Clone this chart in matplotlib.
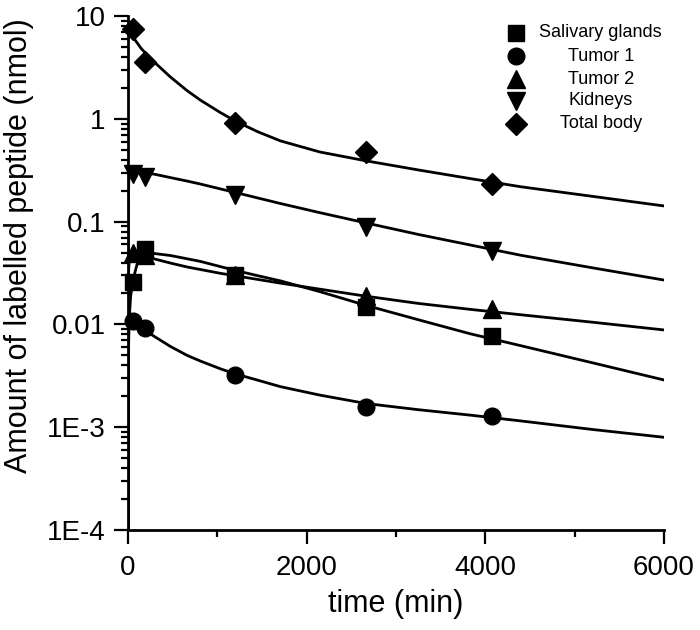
import numpy as np
import matplotlib
matplotlib.use("Agg")
import matplotlib.pyplot as plt

plt.rcParams['font.family'] = ['Liberation Sans', 'DejaVu Sans']

# measured points (time in min, amount in nmol)
t_points = [55, 190, 1200, 2665, 4075]
salivary = [0.0258, 0.054, 0.0305, 0.0148, 0.0077]
tumor1 = [0.0107, 0.0092, 0.0032, 0.00157, 0.00129]
tumor2 = [0.050, 0.047, 0.0302, 0.0190, 0.0140]
kidneys = [0.29, 0.27, 0.183, 0.089, 0.052]
total_body = [7.4, 3.6, 0.91, 0.48, 0.233]

# fitted curves
t_total_fit = [0, 30, 64, 150, 288, 475, 661, 810, 1034, 1202, 1450, 1706, 2150, 2665, 3250, 3832, 4400, 5200, 6000]
total_fit = [8.0, 7.0, 6.1, 4.8, 3.6, 2.55, 1.88, 1.52, 1.15, 0.95, 0.75, 0.61, 0.475, 0.39, 0.318, 0.262, 0.218, 0.176, 0.142]

t_rise_fit = [0, 3, 8, 15, 30, 60, 100, 150, 200, 288, 475, 661, 810, 1034, 1202, 1450, 1706, 2150, 2665, 3250, 3832, 4400, 5200, 6000]
kidney_fit = [1e-6, 0.12, 0.24, 0.30, 0.32, 0.315, 0.308, 0.30, 0.296, 0.290, 0.268, 0.248, 0.232, 0.208, 0.192, 0.170, 0.150, 0.122, 0.097, 0.075, 0.0592, 0.047, 0.0355, 0.027]
salivary_fit = [1e-6, 0.003, 0.007, 0.012, 0.019, 0.028, 0.038, 0.045, 0.0485, 0.049, 0.0468, 0.0435, 0.0410, 0.0365, 0.0335, 0.0298, 0.0265, 0.0208, 0.0153, 0.0111, 0.0081, 0.0062, 0.00423, 0.00288]
tumor2_fit = [1e-6, 0.02, 0.035, 0.043, 0.048, 0.0485, 0.048, 0.0465, 0.0452, 0.0435, 0.0395, 0.0362, 0.0342, 0.0314, 0.0297, 0.0274, 0.0252, 0.0220, 0.0188, 0.0160, 0.0140, 0.0124, 0.0105, 0.00883]
tumor1_fit = [1e-6, 0.008, 0.0112, 0.0113, 0.0111, 0.0106, 0.0100, 0.0093, 0.0087, 0.0077, 0.0061, 0.0050, 0.0044, 0.0037, 0.0033, 0.00287, 0.00248, 0.00205, 0.0017, 0.00148, 0.00131, 0.00115, 0.00095, 0.000798]

labels = ['Salivary glands', 'Tumor 1', 'Tumor 2', 'Kidneys', 'Total body']
markers = ['s', 'o', '^', 'v', 'D']
msizes = [11, 12, 13, 13, 11]

fig = plt.figure(figsize=(7, 6.3), dpi=100)
ax = fig.add_axes([128 / 700, 1 - 530 / 630, 536 / 700, 514 / 630])

lw = 2.0
ax.plot(t_total_fit, total_fit, color='black', lw=lw, zorder=2)
ax.plot(t_rise_fit, kidney_fit, color='black', lw=lw, zorder=2)
ax.plot(t_rise_fit, salivary_fit, color='black', lw=lw, zorder=2)
ax.plot(t_rise_fit, tumor2_fit, color='black', lw=lw, zorder=2)
ax.plot(t_rise_fit, tumor1_fit, color='black', lw=lw, zorder=2)

series = [salivary, tumor1, tumor2, kidneys, total_body]
for vals, m, ms in zip(series, markers, msizes):
    ax.plot(t_points, vals, linestyle='none', marker=m, ms=ms, color='black', zorder=3, clip_on=False)

ax.set_yscale('log')
ax.set_xlim(0, 6000)
ax.set_ylim(1e-4, 10)

ax.spines['top'].set_visible(False)
ax.spines['right'].set_visible(False)
ax.spines['left'].set_linewidth(2)
ax.spines['bottom'].set_linewidth(2)

ax.set_xticks([0, 2000, 4000, 6000])
ax.set_xticks([1000, 3000, 5000], minor=True)
ax.set_yticks([1e-4, 1e-3, 1e-2, 1e-1, 1, 10])
ax.set_yticklabels(['1E-4', '1E-3', '0.01', '0.1', '1', '10'])
ax.yaxis.set_minor_locator(matplotlib.ticker.LogLocator(base=10, subs=np.arange(2, 10), numticks=20))
ax.yaxis.set_minor_formatter(matplotlib.ticker.NullFormatter())

ax.tick_params(which='major', direction='out', length=10, width=1.6, labelsize=20, pad=6)
ax.tick_params(which='minor', direction='out', length=5, width=1.6)
ax.tick_params(axis='x', which='major', pad=8)

ax.set_xlabel('time (min)', fontsize=22, labelpad=6)
ax.set_ylabel('Amount of labelled peptide (nmol)', fontsize=22)
ax.yaxis.set_label_coords(-0.176, 0.553)

# legend, text centred under the column like the original
leg_y = [0.967, 0.922, 0.877, 0.835, 0.790]
for lab, m, ms, yy in zip(labels, markers, msizes, leg_y):
    ax.plot([0.724], [yy], marker=m, ms=ms, color='black', linestyle='none', transform=ax.transAxes, clip_on=False)
    ax.text(0.882, yy, lab, transform=ax.transAxes, ha='center', va='center', fontsize=13)

fig.savefig('out.png', dpi=100)
